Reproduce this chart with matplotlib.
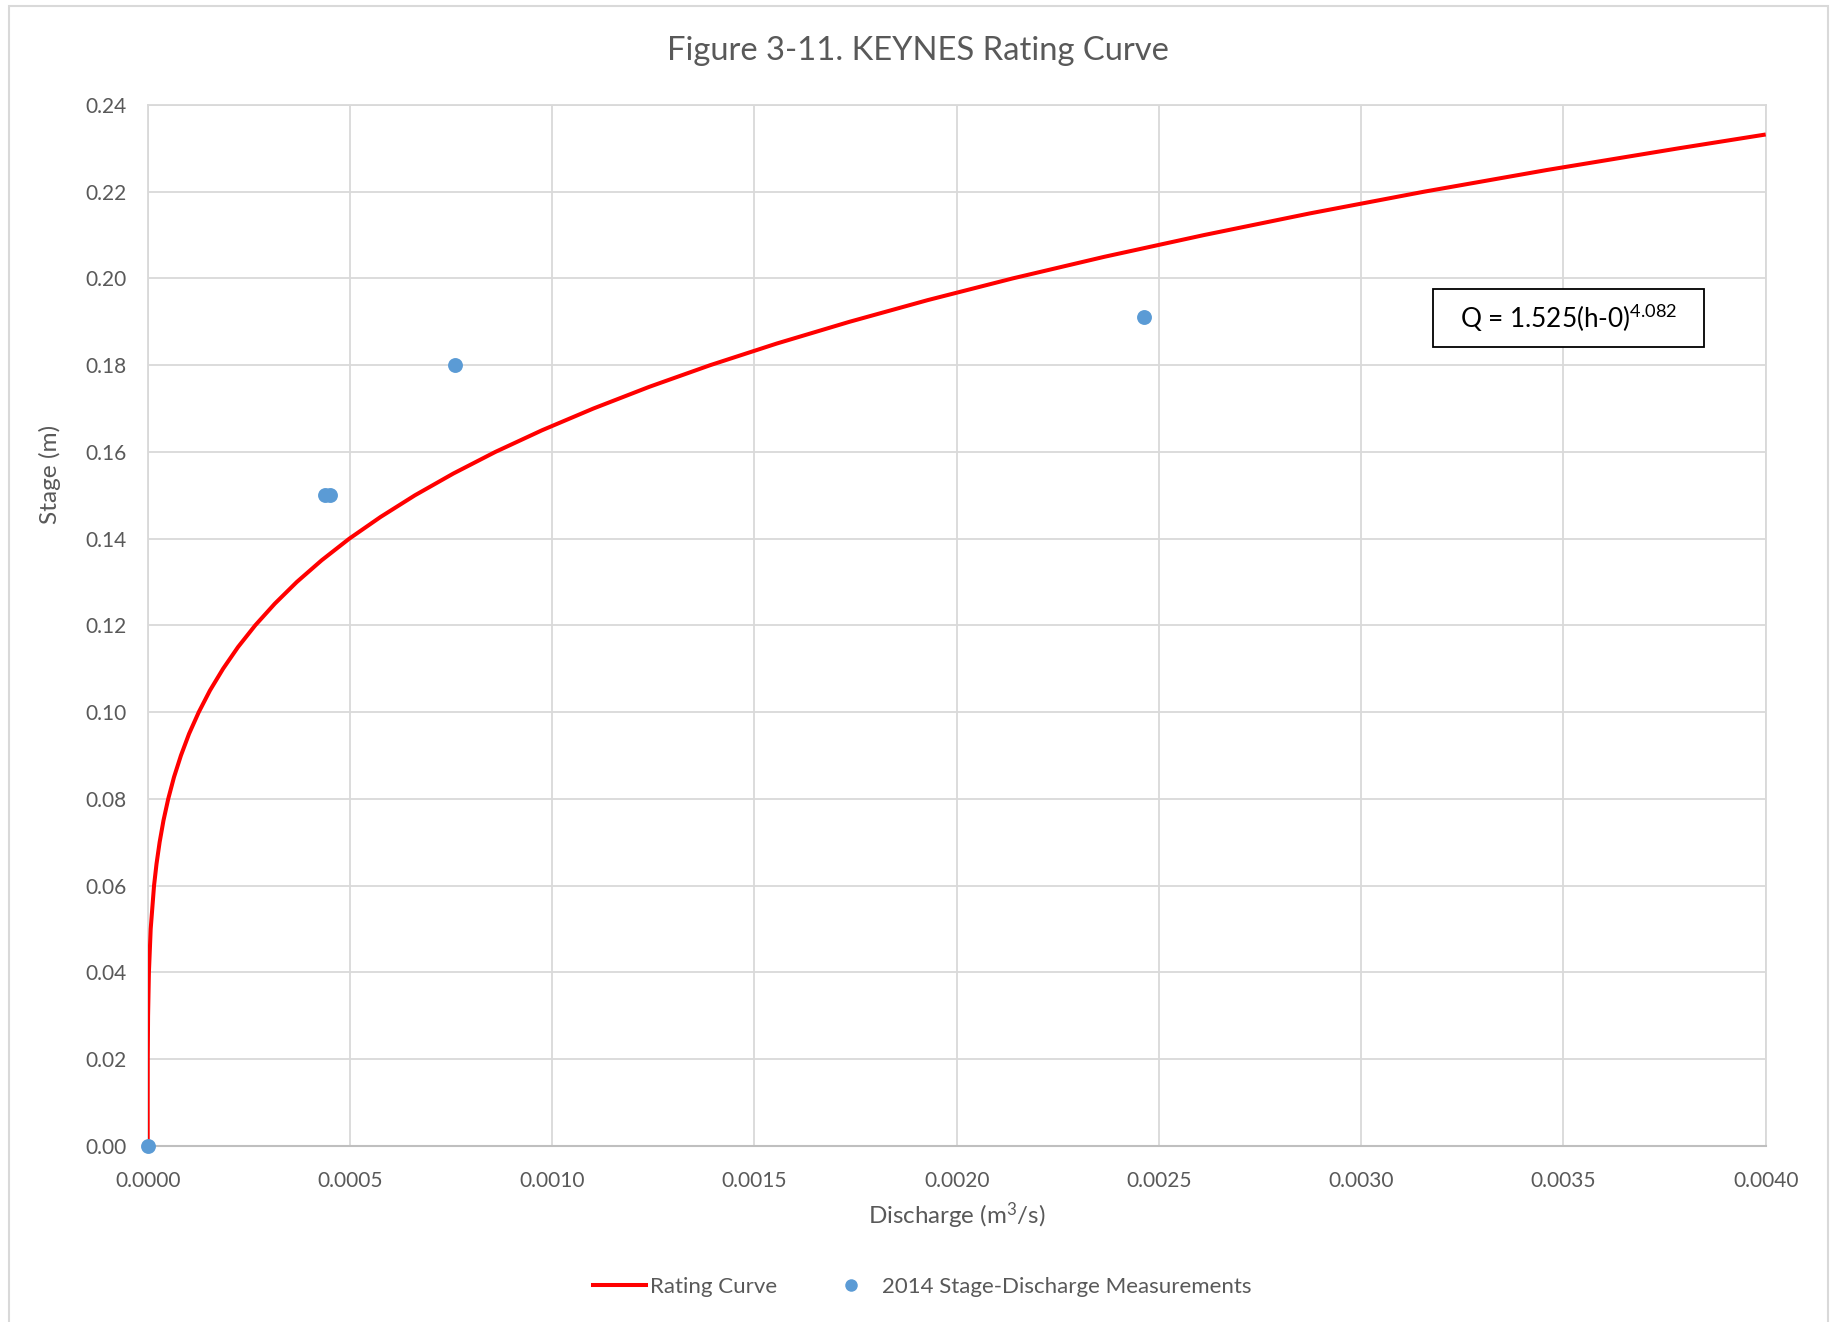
import numpy as np
import matplotlib
matplotlib.use("Agg")
import matplotlib.pyplot as plt
import matplotlib.patches as mpatches
from matplotlib.lines import Line2D
from matplotlib.ticker import MultipleLocator, FormatStrFormatter

# ── Data ──────────────────────────────────────────────────────
# rating curve, stage (m) vs discharge (m3/s)
curve_stage = [0.00, 0.01, 0.02, 0.03, 0.04, 0.05, 0.06, 0.065, 0.07, 0.075,
               0.08, 0.085, 0.09, 0.095, 0.10, 0.105, 0.11, 0.115, 0.12, 0.125,
               0.13, 0.135, 0.14, 0.145, 0.15, 0.155, 0.16, 0.165, 0.17, 0.175,
               0.18, 0.185, 0.19, 0.195, 0.20, 0.205, 0.21, 0.215, 0.22, 0.225,
               0.23, 0.2332]
curve_discharge = [0.0, 0.00000002, 0.00000018, 0.00000093, 0.0000030, 0.0000074,
                   0.0000157, 0.0000218, 0.0000295, 0.0000390, 0.0000508, 0.0000650,
                   0.0000822, 0.0001023, 0.0001263, 0.0001540, 0.0001864, 0.0002233,
                   0.0002658, 0.0003142, 0.0003686, 0.0004300, 0.0004985, 0.0005757,
                   0.0006608, 0.0007554, 0.0008596, 0.0009751, 0.0011017, 0.0012398,
                   0.0013906, 0.0015555, 0.0017348, 0.0019282, 0.0021380, 0.0023653,
                   0.0026110, 0.0028730, 0.0031550, 0.0034585, 0.0037840, 0.0040000]

# 2014 stage-discharge measurements
meas_discharge = [0.0, 0.000438, 0.000451, 0.000760, 0.002464]
meas_stage = [0.0, 0.150, 0.150, 0.180, 0.191]

TITLE = "Figure 3-11. KEYNES Rating Curve"
EQUATION = r"Q = 1.525(h-0)$^{\mathrm{4.082}}$"

# ── Style ─────────────────────────────────────────────────────
plt.rcParams["font.family"] = ["Lato", "DejaVu Sans"]
plt.rcParams["mathtext.fontset"] = "custom"
plt.rcParams["mathtext.rm"] = "Lato"
plt.rcParams["mathtext.it"] = "Lato"
TEXT_C = "#595959"
GRID_C = "#D9D9D9"
RED = "#FF0000"
BLUE = "#5B9BD5"

W, H = 1835, 1322
def fx(px): return px / W
def fy(py): return 1 - py / H

fig = plt.figure(figsize=(W / 100, H / 100), dpi=100)

# chart-area border
fig.patches.append(mpatches.Rectangle((fx(9), fy(1330)), fx(1828) - fx(9), fy(6) - fy(1330),
                                      transform=fig.transFigure, fill=False,
                                      edgecolor=GRID_C, lw=1.5))

left, right, top, bottom = 147.7, 1765.7, 105, 1145.7
ax = fig.add_axes([fx(left), fy(bottom), (right - left) / W, (bottom - top) / H])

ax.plot(curve_discharge, curve_stage, color=RED, lw=2.9, zorder=3,
        solid_capstyle="butt", solid_joinstyle="round", label="Rating Curve")
ax.scatter(meas_discharge, meas_stage, s=115, color=BLUE, zorder=4,
           clip_on=False, linewidths=0, label="2014 Stage-Discharge Measurements")

ax.set_xlim(0, 0.004)
ax.set_ylim(0, 0.24)
ax.xaxis.set_major_locator(MultipleLocator(0.0005))
ax.yaxis.set_major_locator(MultipleLocator(0.02))
ax.xaxis.set_major_formatter(FormatStrFormatter("%.4f"))
ax.yaxis.set_major_formatter(FormatStrFormatter("%.2f"))
ax.grid(True, color=GRID_C, lw=1.3, zorder=0)
ax.set_axisbelow(True)
ax.tick_params(length=0, labelsize=15, labelcolor=TEXT_C)
ax.tick_params(axis="y", pad=15)
ax.tick_params(axis="x", pad=18)
for side in ["top", "right", "left"]:
    ax.spines[side].set_color(GRID_C)
    ax.spines[side].set_linewidth(1.3)
ax.spines["bottom"].set_color("#BFBFBF")
ax.spines["bottom"].set_linewidth(1.5)

# titles
fig.text(fx(918), fy(51), TITLE, ha="center", va="center", fontsize=23.6, color=TEXT_C)
fig.text(fx(956.7), fy(1216), "Discharge (m$^{\\mathrm{3}}$/s)", ha="center", va="center",
         fontsize=17.4, color=TEXT_C)
fig.text(fx(50), fy(474), "Stage (m)", ha="center", va="center", rotation=90,
         fontsize=17.6, color=TEXT_C)

# equation box
fig.patches.append(mpatches.Rectangle((fx(1432.7), fy(347.3)), (1704.3 - 1432.7) / W,
                                      (347.3 - 289.3) / H, transform=fig.transFigure,
                                      fill=True, facecolor="white", edgecolor="black",
                                      lw=1.3, zorder=5))
fig.text(fx(1568.5), fy(318.5), EQUATION, ha="center", va="center", fontsize=18.8,
         color="black", zorder=6)

# legend
handles = [Line2D([], [], color=RED, lw=2.9),
           Line2D([], [], color=BLUE, marker="o", ls="none", markersize=9, markeredgewidth=0)]
fig.legend(handles, ["Rating Curve", "2014 Stage-Discharge Measurements"],
           loc="center", bbox_to_anchor=(fx(922), fy(1287)), ncol=2, frameon=False,
           fontsize=16, labelcolor=TEXT_C, handlelength=2.4, handletextpad=0.2,
           columnspacing=2.1)

fig.savefig("out.png", dpi=100)
